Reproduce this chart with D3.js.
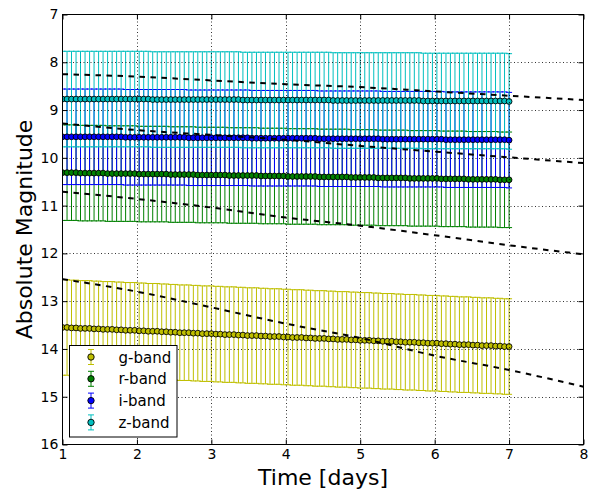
<!DOCTYPE html>
<html>
<head>
<meta charset="utf-8">
<script src="https://cdn.jsdelivr.net/npm/d3@7"></script>
<style>
  html, body { margin: 0; padding: 0; background: #fff; }
  svg { display: block; font-family: "DejaVu Sans", sans-serif; }
</style>
</head>
<body>
<svg id="chart" width="604" height="491"></svg>
<script>
// ---- data ----
const timeDays = [
  1.000,1.061,1.121,1.182,1.242,1.303,1.364,1.424,1.485,1.545,
  1.606,1.667,1.727,1.788,1.848,1.909,1.970,2.030,2.091,2.152,
  2.212,2.273,2.333,2.394,2.455,2.515,2.576,2.636,2.697,2.758,
  2.818,2.879,2.939,3.000,3.061,3.121,3.182,3.242,3.303,3.364,
  3.424,3.485,3.545,3.606,3.667,3.727,3.788,3.848,3.909,3.970,
  4.030,4.091,4.152,4.212,4.273,4.333,4.394,4.455,4.515,4.576,
  4.636,4.697,4.758,4.818,4.879,4.939,5.000,5.061,5.121,5.182,
  5.242,5.303,5.364,5.424,5.485,5.545,5.606,5.667,5.727,5.788,
  5.848,5.909,5.970,6.030,6.091,6.152,6.212,6.273,6.333,6.394,
  6.455,6.515,6.576,6.636,6.697,6.758,6.818,6.879,6.939,7.000
];
const gBand = [
  13.55,13.55,13.56,13.56,13.57,13.57,13.57,13.58,13.58,13.59,
  13.59,13.59,13.60,13.60,13.61,13.61,13.61,13.62,13.62,13.63,
  13.63,13.63,13.64,13.64,13.65,13.65,13.66,13.66,13.66,13.67,
  13.67,13.68,13.68,13.68,13.69,13.69,13.70,13.70,13.70,13.71,
  13.71,13.72,13.72,13.72,13.73,13.73,13.74,13.74,13.74,13.75,
  13.75,13.76,13.76,13.76,13.77,13.77,13.78,13.78,13.78,13.79,
  13.79,13.80,13.80,13.80,13.81,13.81,13.82,13.82,13.82,13.83,
  13.83,13.84,13.84,13.84,13.85,13.85,13.86,13.86,13.86,13.87,
  13.87,13.88,13.88,13.88,13.89,13.89,13.90,13.90,13.91,13.91,
  13.91,13.92,13.92,13.93,13.93,13.93,13.94,13.94,13.95,13.95
];
const rBand = [
  10.31,10.31,10.31,10.31,10.32,10.32,10.32,10.32,10.32,10.32,
  10.33,10.33,10.33,10.33,10.33,10.33,10.33,10.34,10.34,10.34,
  10.34,10.34,10.34,10.34,10.35,10.35,10.35,10.35,10.35,10.35,
  10.36,10.36,10.36,10.36,10.36,10.36,10.36,10.37,10.37,10.37,
  10.37,10.37,10.37,10.37,10.38,10.38,10.38,10.38,10.38,10.38,
  10.39,10.39,10.39,10.39,10.39,10.39,10.39,10.40,10.40,10.40,
  10.40,10.40,10.40,10.40,10.41,10.41,10.41,10.41,10.41,10.41,
  10.42,10.42,10.42,10.42,10.42,10.42,10.42,10.43,10.43,10.43,
  10.43,10.43,10.43,10.43,10.44,10.44,10.44,10.44,10.44,10.44,
  10.45,10.45,10.45,10.45,10.45,10.45,10.45,10.46,10.46,10.46
];
const iBand = [
  9.56,9.56,9.56,9.56,9.56,9.56,9.56,9.56,9.56,9.56,
  9.56,9.56,9.56,9.56,9.57,9.57,9.57,9.57,9.57,9.57,
  9.57,9.57,9.57,9.57,9.57,9.57,9.57,9.57,9.58,9.58,
  9.58,9.58,9.58,9.58,9.58,9.58,9.58,9.58,9.58,9.58,
  9.58,9.58,9.59,9.59,9.59,9.59,9.59,9.59,9.59,9.59,
  9.59,9.59,9.59,9.59,9.59,9.59,9.59,9.60,9.60,9.60,
  9.60,9.60,9.60,9.60,9.60,9.60,9.60,9.60,9.60,9.60,
  9.60,9.61,9.61,9.61,9.61,9.61,9.61,9.61,9.61,9.61,
  9.61,9.61,9.61,9.61,9.61,9.62,9.62,9.62,9.62,9.62,
  9.62,9.62,9.62,9.62,9.62,9.62,9.62,9.62,9.62,9.63
];
const zBand = [
  8.77,8.77,8.77,8.77,8.77,8.77,8.77,8.77,8.77,8.77,
  8.77,8.77,8.77,8.77,8.77,8.77,8.77,8.77,8.77,8.77,
  8.78,8.78,8.78,8.78,8.78,8.78,8.78,8.78,8.78,8.78,
  8.78,8.78,8.78,8.78,8.78,8.78,8.78,8.78,8.78,8.78,
  8.79,8.79,8.79,8.79,8.79,8.79,8.79,8.79,8.79,8.79,
  8.79,8.79,8.79,8.79,8.79,8.79,8.79,8.79,8.79,8.79,
  8.80,8.80,8.80,8.80,8.80,8.80,8.80,8.80,8.80,8.80,
  8.80,8.80,8.80,8.80,8.80,8.80,8.80,8.80,8.80,8.80,
  8.81,8.81,8.81,8.81,8.81,8.81,8.81,8.81,8.81,8.81,
  8.81,8.81,8.81,8.81,8.81,8.81,8.81,8.81,8.81,8.82
];
const bandErrors = [1.0, 1.0, 1.0, 1.0];           // g, r, i, z
const bandNames = ["g-band", "r-band", "i-band", "z-band"];
const bandColors = ["#bfbf00", "#008000", "#0000ff", "#00bfbf"];

const modelDays = [1, 2, 3, 4, 5, 6, 7, 8];
const modelZ = [8.25, 8.30, 8.38, 8.46, 8.52, 8.61, 8.70, 8.79];
const modelI = [9.28, 9.42, 9.52, 9.62, 9.75, 9.87, 9.99, 10.11];
const modelR = [10.71, 10.86, 11.04, 11.25, 11.42, 11.62, 11.83, 12.02];
const modelG = [12.54, 12.80, 13.13, 13.47, 13.77, 14.14, 14.44, 14.79];

const xTicks = [1, 2, 3, 4, 5, 6, 7, 8];
const yTicks = [7, 8, 9, 10, 11, 12, 13, 14, 15, 16];
const xLabel = "Time [days]";
const yLabel = "Absolute Magnitude";

// ---- chart ----
const svg = d3.select("#chart");
const L = 62.5, R = 583.5, T = 14.5, B = 444.5;
const x = d3.scaleLinear().domain([1, 8]).range([L, R]);
const y = d3.scaleLinear().domain([7, 16]).range([T, B]);

svg.append("rect").attr("x", 0).attr("y", 0).attr("width", 604).attr("height", 491).attr("fill", "#fff");

svg.append("defs").append("clipPath").attr("id", "clip")
  .append("rect").attr("x", L).attr("y", T).attr("width", R - L).attr("height", B - T);

const plot = svg.append("g").attr("clip-path", "url(#clip)");

const bands = [gBand, rBand, iBand, zBand].map((vals, k) => ({
  name: bandNames[k], color: bandColors[k], err: bandErrors[k],
  pts: vals.map((m, j) => ({ t: timeDays[j], m }))
}));

const cap = 3;
// error bars
bands.forEach(b => {
  const g = plot.append("g").attr("stroke", b.color).attr("stroke-width", 1).attr("fill", "none");
  b.pts.forEach(p => {
    const px = x(p.t), y0 = y(p.m - b.err), y1 = y(p.m + b.err);
    g.append("line").attr("x1", px).attr("x2", px).attr("y1", y0).attr("y2", y1);
    g.append("line").attr("x1", px - cap).attr("x2", px + cap).attr("y1", y0).attr("y2", y0);
    g.append("line").attr("x1", px - cap).attr("x2", px + cap).attr("y1", y1).attr("y2", y1);
  });
});
// markers
bands.forEach(b => {
  plot.append("g").selectAll("circle").data(b.pts).join("circle")
    .attr("cx", p => x(p.t)).attr("cy", p => y(p.m)).attr("r", 2.9)
    .attr("fill", b.color).attr("stroke", "#000").attr("stroke-width", 0.9);
});
// model dashed curves
const line = d3.line().x(d => x(d[0])).y(d => y(d[1])).curve(d3.curveMonotoneX);
[modelZ, modelI, modelR, modelG].forEach(m => {
  plot.append("path").datum(modelDays.map((t, j) => [t, m[j]]))
    .attr("d", line).attr("fill", "none").attr("stroke", "#000")
    .attr("stroke-width", 2).attr("stroke-dasharray", "5.5,5.5");
});

// grid
const grid = svg.append("g").attr("stroke", "#000").attr("stroke-width", 0.8)
  .attr("stroke-dasharray", "1,2.5");
xTicks.slice(1, -1).forEach(t => grid.append("line")
  .attr("x1", Math.round(x(t)) + 0.5).attr("x2", Math.round(x(t)) + 0.5).attr("y1", T).attr("y2", B));
yTicks.slice(1, -1).forEach(t => grid.append("line")
  .attr("y1", Math.round(y(t)) + 0.5).attr("y2", Math.round(y(t)) + 0.5).attr("x1", L).attr("x2", R));

// axes
function styleAxis(g) {
  g.select(".domain").remove();
  g.selectAll(".tick line").attr("stroke", "#000").attr("stroke-width", 1);
  g.selectAll("text").attr("fill", "#000").style("font-size", "14px")
    .style("font-family", "'DejaVu Sans', sans-serif");
}
svg.append("g").attr("transform", `translate(0,${B})`)
  .call(d3.axisBottom(x).tickValues(xTicks).tickFormat(d3.format("d")).tickSizeInner(-5).tickSizeOuter(0).tickPadding(4.5))
  .call(styleAxis);
svg.append("g").attr("transform", `translate(0,${T})`)
  .call(d3.axisTop(x).tickValues(xTicks).tickFormat("").tickSizeInner(-5).tickSizeOuter(0))
  .call(styleAxis);
svg.append("g").attr("transform", `translate(${L},0)`)
  .call(d3.axisLeft(y).tickValues(yTicks).tickFormat(d3.format("d")).tickSizeInner(-5).tickSizeOuter(0).tickPadding(4.2))
  .call(styleAxis);
svg.append("g").attr("transform", `translate(${R},0)`)
  .call(d3.axisRight(y).tickValues(yTicks).tickFormat("").tickSizeInner(-5).tickSizeOuter(0))
  .call(styleAxis);

// frame
svg.append("rect").attr("x", L).attr("y", T).attr("width", R - L).attr("height", B - T)
  .attr("fill", "none").attr("stroke", "#000").attr("stroke-width", 1);

// axis labels
svg.append("text").attr("x", (L + R) / 2).attr("y", 485).attr("text-anchor", "middle")
  .style("font-size", "22px").text(xLabel);
svg.append("text").attr("transform", `translate(31.5,${(T + B) / 2}) rotate(-90)`)
  .attr("text-anchor", "middle").style("font-size", "22px").text(yLabel);

// legend
const leg = svg.append("g");
leg.append("rect").attr("x", 69.5).attr("y", 345.5).attr("width", 107.5).attr("height", 91.5)
  .attr("fill", "#fff").attr("stroke", "#000").attr("stroke-width", 1);
const legY = [357, 378.8, 400.6, 422.4];
bands.forEach((b, k) => {
  const cy = legY[k], cx = 91;
  const g = leg.append("g");
  g.append("line").attr("x1", cx).attr("x2", cx).attr("y1", cy - 7.5).attr("y2", cy + 7.5).attr("stroke", b.color);
  g.append("line").attr("x1", cx - 3).attr("x2", cx + 3).attr("y1", cy - 7.5).attr("y2", cy - 7.5).attr("stroke", b.color);
  g.append("line").attr("x1", cx - 3).attr("x2", cx + 3).attr("y1", cy + 7.5).attr("y2", cy + 7.5).attr("stroke", b.color);
  g.append("circle").attr("cx", cx).attr("cy", cy).attr("r", 3.2)
    .attr("fill", b.color).attr("stroke", "#000").attr("stroke-width", 0.9);
  g.append("text").attr("x", 118.5).attr("y", cy + 5.5).style("font-size", "15px").text(b.name);
});
</script>
</body>
</html>
